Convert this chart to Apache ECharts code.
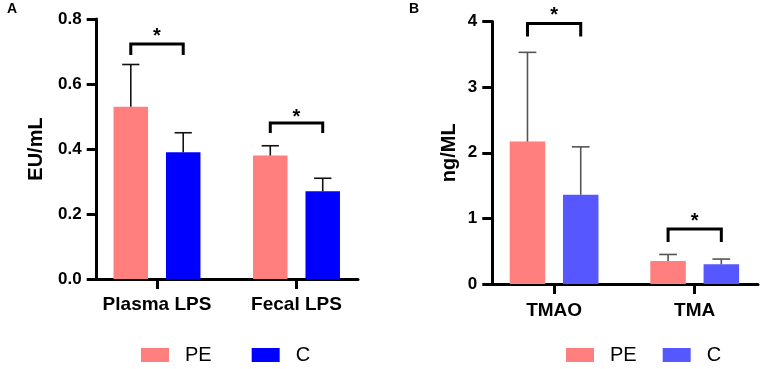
<!DOCTYPE html>
<html>
<head>
<meta charset="utf-8">
<script src="https://cdn.jsdelivr.net/npm/echarts@6/dist/echarts.min.js"></script>
<style>html,body{margin:0;padding:0;background:#fff;}#c{width:765px;height:369px;}</style>
</head>
<body>
<div id="c"></div>
<script>
// ---- Panel A data ----
const aCategories = ['Plasma LPS', 'Fecal LPS'];
const aPE = [0.53, 0.38];
const aPESD = [0.13, 0.03];
const aC = [0.39, 0.27];
const aCSD = [0.06, 0.04];
const aYMin = 0, aYMax = 0.8, aYInterval = 0.2;
// bracket: [categoryIndex, topValue, legBottomValue, starValue]
const aBrackets = [[0, 0.723, 0.689, 0.764], [1, 0.48, 0.449, 0.515]];

// ---- Panel B data ----
const bCategories = ['TMAO', 'TMA'];
const bPE = [2.17, 0.35];
const bPESD = [1.36, 0.10];
const bC = [1.36, 0.30];
const bCSD = [0.73, 0.08];
const bYMin = 0, bYMax = 4, bYInterval = 1;
const bBrackets = [[0, 3.97, 3.77, 4.19], [1, 0.84, 0.64, 1.05]];

const seriesNames = ['PE', 'C'];

const FONT = 'Liberation Sans, Arial, sans-serif';
const aBarW = 34.5, aGap = 0.52;
const bBarW = 35.5, bGap = 0.50;

function errData(pe, peSd, c, cSd) {
  const d = [];
  pe.forEach((v, i) => d.push([i, v, v + peSd[i], 0]));
  c.forEach((v, i) => d.push([i, v, v + cSd[i], 1]));
  return d;
}

function errRender(barW, gap, color) {
  return function (params, api) {
    const off = (barW + barW * gap) / 2 * (api.value(3) === 0 ? -1 : 1);
    const p0 = api.coord([api.value(0), api.value(1)]);
    const p1 = api.coord([api.value(0), api.value(2)]);
    const x = p0[0] + off;
    const cap = barW / 2;
    const style = { stroke: color, lineWidth: 1.6, fill: null };
    return {
      type: 'group',
      children: [
        { type: 'line', shape: { x1: x, y1: p0[1], x2: x, y2: p1[1] }, style: style },
        { type: 'line', shape: { x1: x - cap / 2, y1: p1[1], x2: x + cap / 2, y2: p1[1] }, style: style }
      ]
    };
  };
}

function bracketRender(barW, gap) {
  return function (params, api) {
    const off = (barW + barW * gap) / 2;
    const top = api.coord([api.value(0), api.value(1)]);
    const leg = api.coord([api.value(0), api.value(2)]);
    const star = api.coord([api.value(0), api.value(3)]);
    const xl = top[0] - off, xr = top[0] + off;
    return {
      type: 'group',
      children: [
        { type: 'polyline', shape: { points: [[xl, leg[1]], [xl, top[1]], [xr, top[1]], [xr, leg[1]]] },
          style: { stroke: '#000', lineWidth: 3, fill: null, lineJoin: 'miter' } },
        { type: 'text', style: { text: '*', x: top[0], y: star[1] + 6, textAlign: 'center', textVerticalAlign: 'middle',
          font: 'bold 20px ' + FONT, fill: '#000' } }
      ]
    };
  };
}

function frameY(gi, min, max, interval, name, gap, fmt) {
  return {
    gridIndex: gi, type: 'value', min: min, max: max, interval: interval,
    name: name, nameLocation: 'middle', nameGap: gap, nameRotate: 90,
    nameTextStyle: { fontFamily: FONT, fontWeight: 'bold', fontSize: 20, color: '#000' },
    axisLine: { show: true, lineStyle: { color: '#000', width: 3 } },
    axisTick: { show: true, length: 10, lineStyle: { color: '#000', width: 3 } },
    axisLabel: { margin: 15, fontFamily: FONT, fontWeight: 'bold', fontSize: 17, color: '#000', formatter: fmt },
    splitLine: { show: false }
  };
}
function hiddenY(gi, min, max) {
  return { gridIndex: gi, type: 'value', min: min, max: max, show: false, splitLine: { show: false } };
}
function frameX(gi) {
  return {
    gridIndex: gi, type: 'value', min: 0, max: 1,
    axisLine: { show: true, onZero: false, lineStyle: { color: '#000', width: 3 } },
    axisTick: { show: false }, axisLabel: { show: false }, splitLine: { show: false }
  };
}
function catX(gi, cats, margin) {
  return {
    gridIndex: gi, type: 'category', data: cats,
    axisLine: { show: false },
    axisTick: { show: true, alignWithLabel: true, interval: 0, length: 10, lineStyle: { color: '#000', width: 3 } },
    axisLabel: { interval: 0, hideOverlap: false, margin: margin, fontFamily: FONT, fontWeight: 'bold', fontSize: 19, color: '#000' },
    splitLine: { show: false }
  };
}

const chart = echarts.init(document.getElementById('c'));
chart.setOption({
  animation: false,
  backgroundColor: '#fff',
  title: [
    { text: 'A', left: 7, top: 2, padding: 0, textStyle: { fontFamily: FONT, fontWeight: 'bold', fontSize: 14, color: '#000' } },
    { text: 'B', left: 409, top: 2, padding: 0, textStyle: { fontFamily: FONT, fontWeight: 'bold', fontSize: 14, color: '#000' } }
  ],
  grid: [
    { left: 96.7, top: 19, width: 261.3, height: 260 },
    { left: 87.25, top: 19, width: 279, height: 260 },
    { left: 492.3, top: 21.5, width: 265.7, height: 262.5 },
    { left: 483.8, top: 21.5, width: 282, height: 262.5 }
  ],
  xAxis: [frameX(0), catX(1, aCategories, 16), frameX(2), catX(3, bCategories, 17)],
  yAxis: [
    frameY(0, aYMin, aYMax, aYInterval, 'EU/mL', 50, v => v.toFixed(1)),
    hiddenY(1, aYMin, aYMax),
    frameY(2, bYMin, bYMax, bYInterval, 'ng/ML', 33, v => String(v)),
    hiddenY(3, bYMin, bYMax)
  ],
  legend: [
    { left: 141, top: 345, padding: 0, itemWidth: 28, itemHeight: 14, itemGap: 40, icon: 'rect',
      textStyle: { fontFamily: FONT, fontSize: 20, color: '#000', padding: [0, 0, 0, 11] },
      data: [{ name: seriesNames[0], itemStyle: { color: '#FF7F7F' } }, { name: seriesNames[1], itemStyle: { color: '#0000FF' } }] },
    { left: 566, top: 345, padding: 0, itemWidth: 28, itemHeight: 14, itemGap: 26, icon: 'rect',
      textStyle: { fontFamily: FONT, fontSize: 20, color: '#000', padding: [0, 0, 0, 11] },
      data: [{ name: seriesNames[0], itemStyle: { color: '#FF7F7F' } }, { name: seriesNames[1], itemStyle: { color: '#5757FF' } }] }
  ],
  series: [
    { type: 'bar', name: seriesNames[0], xAxisIndex: 1, yAxisIndex: 1, data: aPE, barWidth: aBarW, barGap: (aGap * 100) + '%', itemStyle: { color: '#FF7F7F' } },
    { type: 'bar', name: seriesNames[1], xAxisIndex: 1, yAxisIndex: 1, data: aC, barWidth: aBarW, barGap: (aGap * 100) + '%', itemStyle: { color: '#0000FF' } },
    { type: 'custom', xAxisIndex: 1, yAxisIndex: 1, data: errData(aPE, aPESD, aC, aCSD), renderItem: errRender(aBarW, aGap, '#111'), encode: { x: 0, y: [1, 2] }, z: 3 },
    { type: 'custom', xAxisIndex: 1, yAxisIndex: 1, data: aBrackets, renderItem: bracketRender(aBarW, aGap), encode: { x: 0, y: [1, 2] }, z: 3, clip: false },
    { type: 'bar', name: seriesNames[0], xAxisIndex: 3, yAxisIndex: 3, data: bPE, barWidth: bBarW, barGap: (bGap * 100) + '%', itemStyle: { color: '#FF7F7F' } },
    { type: 'bar', name: seriesNames[1], xAxisIndex: 3, yAxisIndex: 3, data: bC, barWidth: bBarW, barGap: (bGap * 100) + '%', itemStyle: { color: '#5757FF' } },
    { type: 'custom', xAxisIndex: 3, yAxisIndex: 3, data: errData(bPE, bPESD, bC, bCSD), renderItem: errRender(bBarW, bGap, '#555'), encode: { x: 0, y: [1, 2] }, z: 3 },
    { type: 'custom', xAxisIndex: 3, yAxisIndex: 3, data: bBrackets, renderItem: bracketRender(bBarW, bGap), encode: { x: 0, y: [1, 2] }, z: 3, clip: false }
  ]
});
</script>
</body>
</html>
